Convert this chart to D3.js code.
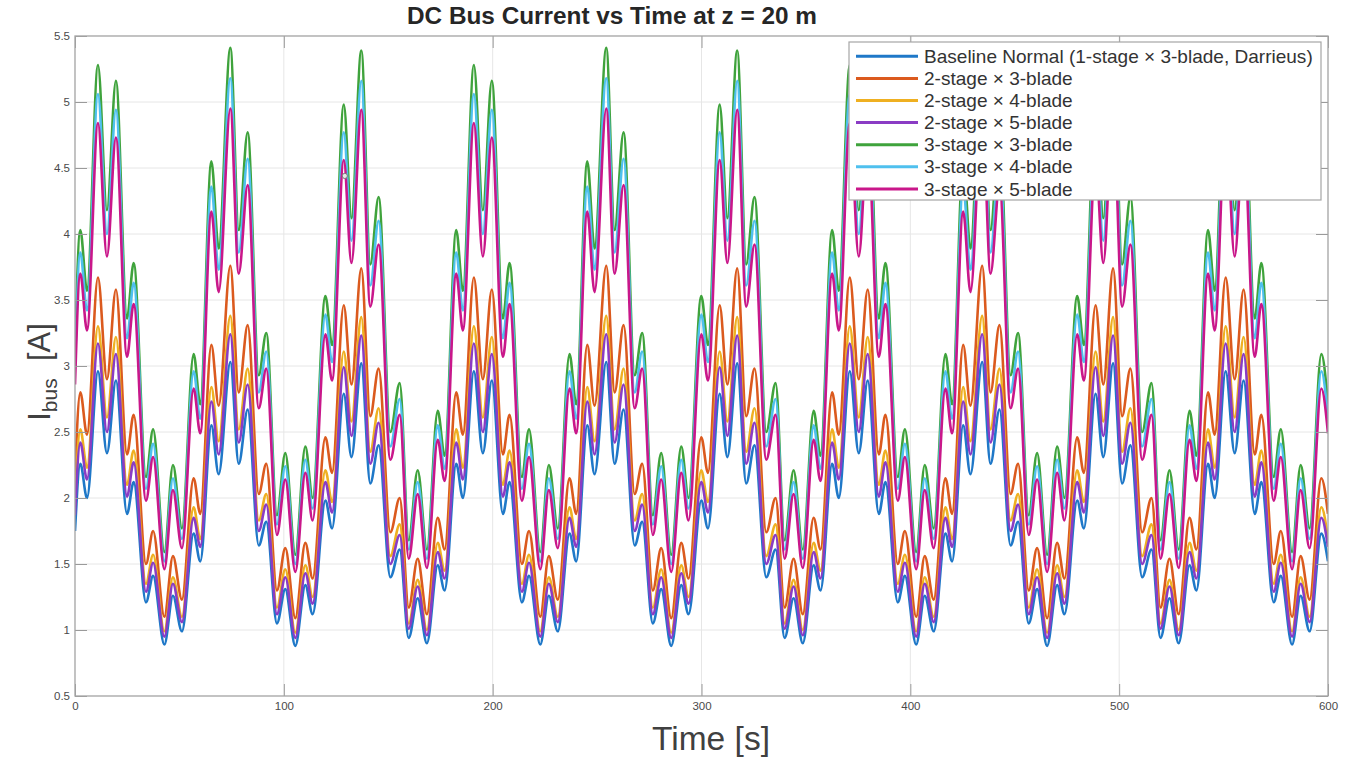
<!DOCTYPE html>
<html><head><meta charset="utf-8">
<script src="https://cdn.jsdelivr.net/npm/d3@7"></script>
<style>
body{margin:0;background:#fff;}
svg{display:block;font-family:"Liberation Sans",Arial,Helvetica,sans-serif;}
</style>
</head><body>
<svg id="c" width="1350" height="759"></svg>
<script>
// ---------------- DATA (local extrema of each trace) ----------------
const timeS = [0,
2.55,5.75,11.0,15.3,19.6,24.9,28.1,34.0,37.4,42.8,46.9,51.2,56.8,60.0,65.3,68.8,74.4,78.4,82.7,88.0,91.6,96.7,100.7,105.5,110.3,113.8,119.9,123.1,128.7,132.4,137.1,141.4,145.4,151.0,155.5,159.8,164.1,168.5,173.7,177.0,
182.55,185.75,191.0,195.3,199.6,204.9,208.1,214.0,217.4,222.8,226.9,231.2,236.8,240.0,245.3,248.8,254.4,258.4,262.7,268.0,271.6,276.7,280.7,285.5,290.3,293.8,299.9,303.1,308.7,312.4,317.1,321.4,325.4,331.0,335.5,339.8,344.1,348.5,353.7,357.0,
362.55,365.75,371.0,375.3,379.6,384.9,388.1,394.0,397.4,402.8,406.9,411.2,416.8,420.0,425.3,428.8,434.4,438.4,442.7,448.0,451.6,456.7,460.7,465.5,470.3,473.8,479.9,483.1,488.7,492.4,497.1,501.4,505.4,511.0,515.5,519.8,524.1,528.5,533.7,537.0,
542.55,545.75,551.0,555.3,559.6,564.9,568.1,574.0,577.4,582.8,586.9,591.2,596.8,600.0];

const baseline = [1.75,
2.26,2.00,2.96,2.34,2.89,1.88,2.12,1.21,1.41,0.89,1.26,0.99,1.73,1.52,2.55,2.18,3.03,2.26,2.67,1.64,1.82,1.05,1.31,0.88,1.34,1.12,1.98,1.77,2.79,2.31,3.02,2.11,2.40,1.40,1.61,0.94,1.24,0.90,1.49,1.30,
2.26,2.00,2.96,2.34,2.89,1.88,2.12,1.21,1.41,0.89,1.26,0.99,1.73,1.52,2.55,2.18,3.03,2.26,2.67,1.64,1.82,1.05,1.31,0.88,1.34,1.12,1.98,1.77,2.79,2.31,3.02,2.11,2.40,1.40,1.61,0.94,1.24,0.90,1.49,1.30,
2.26,2.00,2.96,2.34,2.89,1.88,2.12,1.21,1.41,0.89,1.26,0.99,1.73,1.52,2.55,2.18,3.03,2.26,2.67,1.64,1.82,1.05,1.31,0.88,1.34,1.12,1.98,1.77,2.79,2.31,3.02,2.11,2.40,1.40,1.61,0.94,1.24,0.90,1.49,1.30,
2.26,2.00,2.96,2.34,2.89,1.88,2.12,1.21,1.41,0.89,1.26,0.99,1.73,1.52];

const s2x3 = [2.17,
2.80,2.48,3.67,2.90,3.58,2.33,2.63,1.50,1.75,1.10,1.56,1.23,2.15,1.88,3.16,2.70,3.76,2.80,3.31,2.03,2.26,1.30,1.62,1.09,1.66,1.39,2.46,2.19,3.46,2.86,3.74,2.62,2.98,1.74,2.00,1.17,1.54,1.12,1.85,1.61,
2.80,2.48,3.67,2.90,3.58,2.33,2.63,1.50,1.75,1.10,1.56,1.23,2.15,1.88,3.16,2.70,3.76,2.80,3.31,2.03,2.26,1.30,1.62,1.09,1.66,1.39,2.46,2.19,3.46,2.86,3.74,2.62,2.98,1.74,2.00,1.17,1.54,1.12,1.85,1.61,
2.80,2.48,3.67,2.90,3.58,2.33,2.63,1.50,1.75,1.10,1.56,1.23,2.15,1.88,3.16,2.70,3.76,2.80,3.31,2.03,2.26,1.30,1.62,1.09,1.66,1.39,2.46,2.19,3.46,2.86,3.74,2.62,2.98,1.74,2.00,1.17,1.54,1.12,1.85,1.61,
2.80,2.48,3.67,2.90,3.58,2.33,2.63,1.50,1.75,1.10,1.56,1.23,2.15,1.88];

const s2x4 = [1.95,
2.52,2.23,3.30,2.61,3.22,2.10,2.36,1.35,1.57,0.99,1.40,1.10,1.93,1.69,2.84,2.43,3.38,2.52,2.98,1.83,2.03,1.17,1.46,0.98,1.49,1.25,2.21,1.97,3.11,2.58,3.37,2.35,2.68,1.56,1.80,1.05,1.38,1.00,1.66,1.45,
2.52,2.23,3.30,2.61,3.22,2.10,2.36,1.35,1.57,0.99,1.40,1.10,1.93,1.69,2.84,2.43,3.38,2.52,2.98,1.83,2.03,1.17,1.46,0.98,1.49,1.25,2.21,1.97,3.11,2.58,3.37,2.35,2.68,1.56,1.80,1.05,1.38,1.00,1.66,1.45,
2.52,2.23,3.30,2.61,3.22,2.10,2.36,1.35,1.57,0.99,1.40,1.10,1.93,1.69,2.84,2.43,3.38,2.52,2.98,1.83,2.03,1.17,1.46,0.98,1.49,1.25,2.21,1.97,3.11,2.58,3.37,2.35,2.68,1.56,1.80,1.05,1.38,1.00,1.66,1.45,
2.52,2.23,3.30,2.61,3.22,2.10,2.36,1.35,1.57,0.99,1.40,1.10,1.93,1.69];

const s2x5 = [1.87,
2.42,2.14,3.17,2.50,3.09,2.01,2.27,1.29,1.51,0.95,1.35,1.06,1.85,1.63,2.73,2.33,3.24,2.42,2.86,1.75,1.95,1.12,1.40,0.94,1.43,1.20,2.12,1.89,2.99,2.47,3.23,2.26,2.57,1.50,1.72,1.01,1.33,0.96,1.59,1.39,
2.42,2.14,3.17,2.50,3.09,2.01,2.27,1.29,1.51,0.95,1.35,1.06,1.85,1.63,2.73,2.33,3.24,2.42,2.86,1.75,1.95,1.12,1.40,0.94,1.43,1.20,2.12,1.89,2.99,2.47,3.23,2.26,2.57,1.50,1.72,1.01,1.33,0.96,1.59,1.39,
2.42,2.14,3.17,2.50,3.09,2.01,2.27,1.29,1.51,0.95,1.35,1.06,1.85,1.63,2.73,2.33,3.24,2.42,2.86,1.75,1.95,1.12,1.40,0.94,1.43,1.20,2.12,1.89,2.99,2.47,3.23,2.26,2.57,1.50,1.72,1.01,1.33,0.96,1.59,1.39,
2.42,2.14,3.17,2.50,3.09,2.01,2.27,1.29,1.51,0.95,1.35,1.06,1.85,1.63];

const s3x3 = [3.12,
4.03,3.57,5.28,4.18,5.16,3.36,3.78,2.16,2.52,1.59,2.25,1.77,3.09,2.71,4.55,3.89,5.41,4.03,4.77,2.93,3.25,1.87,2.34,1.57,2.39,2.00,3.53,3.16,4.98,4.12,5.39,3.77,4.28,2.50,2.87,1.68,2.21,1.61,2.66,2.32,
4.03,3.57,5.28,4.18,5.16,3.36,3.78,2.16,2.52,1.59,2.25,1.77,3.09,2.71,4.55,3.89,5.41,4.03,4.77,2.93,3.25,1.87,2.34,1.57,2.39,2.00,3.53,3.16,4.98,4.12,5.39,3.77,4.28,2.50,2.87,1.68,2.21,1.61,2.66,2.32,
4.03,3.57,5.28,4.18,5.16,3.36,3.78,2.16,2.52,1.59,2.25,1.77,3.09,2.71,4.55,3.89,5.41,4.03,4.77,2.93,3.25,1.87,2.34,1.57,2.39,2.00,3.53,3.16,4.98,4.12,5.39,3.77,4.28,2.50,2.87,1.68,2.21,1.61,2.66,2.32,
4.03,3.57,5.28,4.18,5.16,3.36,3.78,2.16,2.52,1.59,2.25,1.77,3.09,2.71];

const s3x4 = [2.99,
3.86,3.42,5.06,4.00,4.94,3.21,3.63,2.07,2.41,1.52,2.15,1.69,2.96,2.60,4.36,3.73,5.18,3.86,4.57,2.80,3.11,1.80,2.24,1.50,2.29,1.92,3.39,3.03,4.77,3.95,5.16,3.61,4.10,2.39,2.75,1.61,2.12,1.54,2.55,2.22,
3.86,3.42,5.06,4.00,4.94,3.21,3.63,2.07,2.41,1.52,2.15,1.69,2.96,2.60,4.36,3.73,5.18,3.86,4.57,2.80,3.11,1.80,2.24,1.50,2.29,1.92,3.39,3.03,4.77,3.95,5.16,3.61,4.10,2.39,2.75,1.61,2.12,1.54,2.55,2.22,
3.86,3.42,5.06,4.00,4.94,3.21,3.63,2.07,2.41,1.52,2.15,1.69,2.96,2.60,4.36,3.73,5.18,3.86,4.57,2.80,3.11,1.80,2.24,1.50,2.29,1.92,3.39,3.03,4.77,3.95,5.16,3.61,4.10,2.39,2.75,1.61,2.12,1.54,2.55,2.22,
3.86,3.42,5.06,4.00,4.94,3.21,3.63,2.07,2.41,1.52,2.15,1.69,2.96,2.60];

const s3x5 = [2.86,
3.70,3.27,4.84,3.83,4.73,3.07,3.47,1.98,2.31,1.46,2.06,1.62,2.83,2.49,4.17,3.56,4.95,3.70,4.37,2.68,2.98,1.72,2.14,1.44,2.19,1.83,3.24,2.89,4.56,3.78,4.94,3.45,3.92,2.29,2.63,1.54,2.03,1.47,2.44,2.13,
3.70,3.27,4.84,3.83,4.73,3.07,3.47,1.98,2.31,1.46,2.06,1.62,2.83,2.49,4.17,3.56,4.95,3.70,4.37,2.68,2.98,1.72,2.14,1.44,2.19,1.83,3.24,2.89,4.56,3.78,4.94,3.45,3.92,2.29,2.63,1.54,2.03,1.47,2.44,2.13,
3.70,3.27,4.84,3.83,4.73,3.07,3.47,1.98,2.31,1.46,2.06,1.62,2.83,2.49,4.17,3.56,4.95,3.70,4.37,2.68,2.98,1.72,2.14,1.44,2.19,1.83,3.24,2.89,4.56,3.78,4.94,3.45,3.92,2.29,2.63,1.54,2.03,1.47,2.44,2.13,
3.70,3.27,4.84,3.83,4.73,3.07,3.47,1.98,2.31,1.46,2.06,1.62,2.83,2.49];

const seriesNames = [
  "Baseline Normal (1-stage \u00d7 3-blade, Darrieus)",
  "2-stage \u00d7 3-blade",
  "2-stage \u00d7 4-blade",
  "2-stage \u00d7 5-blade",
  "3-stage \u00d7 3-blade",
  "3-stage \u00d7 4-blade",
  "3-stage \u00d7 5-blade"
];
const seriesValues = [baseline, s2x3, s2x4, s2x5, s3x3, s3x4, s3x5];
const xTicks = [0, 100, 200, 300, 400, 500, 600];
const yTicks = [0.5, 1, 1.5, 2, 2.5, 3, 3.5, 4, 4.5, 5, 5.5];
const dataTip = [{t: 129.2, v: 4.44}];

// ---------------- STYLE / LAYOUT ----------------
const colors = ["#1f78c8", "#db5a1e", "#efb021", "#8a3cc4", "#3fa33c", "#4fc0ee", "#c9178a"];
const W = 1350, H = 759;
const plot = {left: 75, right: 1328, top: 36, bottom: 696};

const svg = d3.select("#c");
svg.append("rect").attr("width", W).attr("height", H).attr("fill", "#fff");

const x = d3.scaleLinear().domain([0, 600]).range([plot.left, plot.right]);
const y = d3.scaleLinear().domain([0.5, 5.5]).range([plot.bottom, plot.top]);

// grid
const grid = svg.append("g").attr("stroke", "#e6e6e6").attr("stroke-width", 1);
grid.selectAll("line.gx").data(xTicks.slice(1, -1)).join("line")
  .attr("x1", d => x(d)).attr("x2", d => x(d)).attr("y1", plot.top).attr("y2", plot.bottom);
grid.selectAll("line.gy").data(yTicks.slice(1, -1)).join("line")
  .attr("y1", d => y(d)).attr("y2", d => y(d)).attr("x1", plot.left).attr("x2", plot.right);

// clip
svg.append("clipPath").attr("id", "clip").append("rect")
  .attr("x", plot.left).attr("y", plot.top)
  .attr("width", plot.right - plot.left).attr("height", plot.bottom - plot.top);

const line = d3.line().x(d => x(d[0])).y(d => y(d[1])).curve(d3.curveMonotoneX);
const lines = svg.append("g").attr("clip-path", "url(#clip)");
seriesValues.forEach((vals, i) => {
  const pts = timeS.map((t, k) => [t, vals[k]]);
  lines.append("path").datum(pts).attr("d", line)
    .attr("fill", "none").attr("stroke", colors[i]).attr("stroke-width", 2.6)
    .attr("stroke-linejoin", "round");
});

// data tip marker
svg.selectAll("circle.tip").data(dataTip).join("circle")
  .attr("cx", d => x(d.t)).attr("cy", d => y(d.v)).attr("r", 2.6)
  .attr("fill", "#e8e8e8").attr("stroke", "#777").attr("stroke-width", 1);

// axes
const tickCol = "#9a9a9a", labCol = "#4a4a4a";
function styleAxis(g) {
  g.select(".domain").remove();
  g.selectAll(".tick line").attr("stroke", tickCol).attr("stroke-width", 1);
  g.selectAll(".tick text").attr("fill", labCol).attr("font-size", 11.5)
    .attr("font-family", '"Liberation Sans",Arial,sans-serif');
}
svg.append("g").attr("transform", `translate(0,${plot.bottom})`)
  .call(d3.axisBottom(x).tickValues(xTicks).tickSizeInner(-12).tickSizeOuter(0).tickPadding(6).tickFormat(d => String(d)))
  .call(styleAxis);
svg.append("g").attr("transform", `translate(0,${plot.top})`)
  .call(d3.axisTop(x).tickValues(xTicks).tickSizeInner(-12).tickSizeOuter(0).tickFormat(() => ""))
  .call(styleAxis);
svg.append("g").attr("transform", `translate(${plot.left},0)`)
  .call(d3.axisLeft(y).tickValues(yTicks).tickSizeInner(-12).tickSizeOuter(0).tickPadding(5).tickFormat(d => String(d)))
  .call(styleAxis);
svg.append("g").attr("transform", `translate(${plot.right},0)`)
  .call(d3.axisRight(y).tickValues(yTicks).tickSizeInner(-12).tickSizeOuter(0).tickFormat(() => ""))
  .call(styleAxis);

// box
svg.append("rect").attr("x", plot.left).attr("y", plot.top)
  .attr("width", plot.right - plot.left).attr("height", plot.bottom - plot.top)
  .attr("fill", "none").attr("stroke", "#a3a3a3").attr("stroke-width", 1.3);

function fit(sel, target) {
  const w = sel.node().getComputedTextLength();
  const fs = parseFloat(sel.attr("font-size"));
  sel.attr("font-size", fs * target / w);
}

// title
const title = svg.append("text").attr("x", 612).attr("y", 24).attr("text-anchor", "middle")
  .attr("font-weight", "bold").attr("font-size", 18).attr("fill", "#262626")
  .text("DC Bus Current vs Time at z = 20 m");
fit(title, 410);

// x label
const xl = svg.append("text").attr("x", 711).attr("y", 750).attr("text-anchor", "middle")
  .attr("font-size", 33).attr("fill", "#404040").text("Time [s]");
fit(xl, 118);

// y label
const yl = svg.append("text").attr("transform", "translate(50,372) rotate(-90)")
  .attr("text-anchor", "middle").attr("font-size", 31).attr("fill", "#404040")
  .attr("xml:space", "preserve").style("white-space", "pre");
yl.append("tspan").text("I");
yl.append("tspan").attr("font-size", 21).attr("dy", 7).text("bus");
yl.append("tspan").attr("dy", -7).text("  [A]");

// legend
const leg = svg.append("g");
leg.append("rect").attr("x", 849).attr("y", 42).attr("width", 472).attr("height", 158)
  .attr("fill", "#fff").attr("stroke", "#a6a6a6").attr("stroke-width", 1.2);
const rows = leg.selectAll("g.row").data(seriesNames).join("g")
  .attr("transform", (d, i) => `translate(0,${56.3 + i * 22.1})`);
rows.append("line").attr("x1", 856).attr("x2", 918).attr("y1", 0).attr("y2", 0)
  .attr("stroke", (d, i) => colors[i]).attr("stroke-width", 3);
const legTexts = rows.append("text").attr("x", 924).attr("y", 0).attr("dy", "0.35em")
  .attr("font-size", 16).attr("fill", "#333").text(d => d);
const first = legTexts.filter((d, i) => i === 0);
const w0 = first.node().getComputedTextLength();
legTexts.attr("font-size", 16 * 389 / w0);
</script>
</body></html>
